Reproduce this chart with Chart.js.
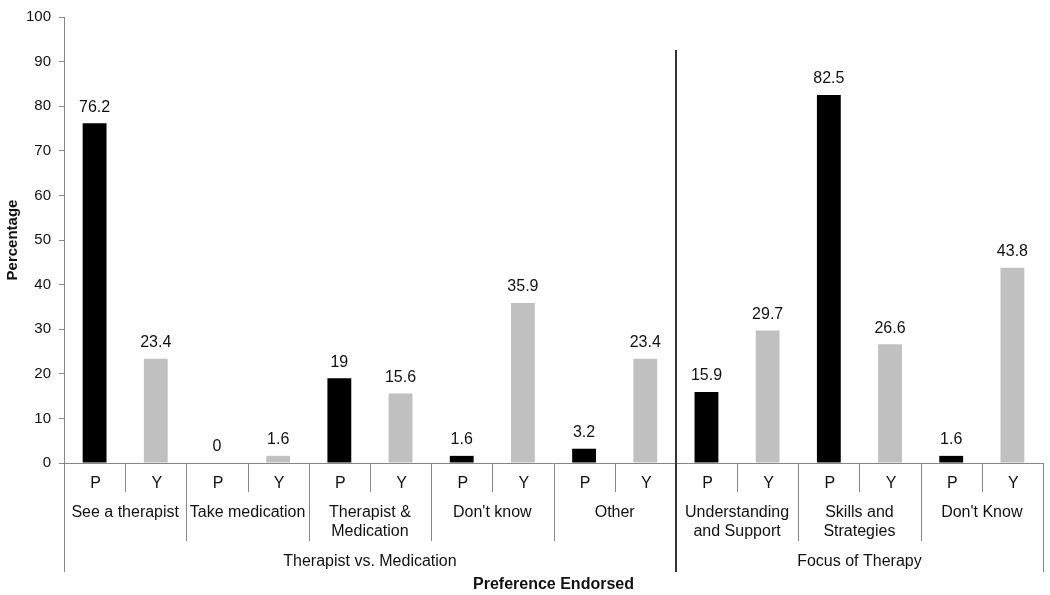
<!DOCTYPE html>
<html>
<head>
<meta charset="utf-8">
<script src="https://cdn.jsdelivr.net/npm/chart.js@4"></script>
<style>
  body { margin: 0; background: #fff; }
  #wrap { width: 1050px; height: 595px; }
</style>
</head>
<body>
<div id="wrap"><canvas id="chart" width="1050" height="595"></canvas></div>
<script>
// chart data
const groups = ["Therapist vs. Medication", "Focus of Therapy"];
const groupSizes = [5, 3];
const subcategories = [
  ["See a therapist"],
  ["Take medication"],
  ["Therapist &", "Medication"],
  ["Don't know"],
  ["Other"],
  ["Understanding", "and Support"],
  ["Skills and", "Strategies"],
  ["Don't Know"],
];
const seriesNames = ["P", "Y"];
const valuesP = [76.2, 0, 19, 1.6, 3.2, 15.9, 82.5, 1.6];
const valuesY = [23.4, 1.6, 15.6, 35.9, 23.4, 29.7, 26.6, 43.8];
const yTicks = [0, 10, 20, 30, 40, 50, 60, 70, 80, 90, 100];

const fontFamily = "'Liberation Sans', Arial, sans-serif";
const axisGray = "#868686";

// interleave P / Y into one row of 16 bars
const labels = [];
const values = [];
const colors = [];
subcategories.forEach((sub, i) => {
  labels.push(seriesNames[0], seriesNames[1]);
  values.push(valuesP[i], valuesY[i]);
  colors.push("#000000", "#c0c0c0");
});

// draws values above bars and the multi-level category axis
const axisPlugin = {
  id: "multiAxis",
  afterDatasetsDraw(chart) {
    const ctx = chart.ctx;
    const meta = chart.getDatasetMeta(0);
    ctx.save();
    ctx.font = "16px " + fontFamily;
    ctx.fillStyle = "#111";
    ctx.textAlign = "center";
    ctx.textBaseline = "middle";
    meta.data.forEach((bar, i) => {
      ctx.fillText(String(values[i]), bar.x, bar.y - 16);
    });
    ctx.restore();
  },
  afterDraw(chart) {
    const ctx = chart.ctx;
    const x = chart.scales.x;
    const area = chart.chartArea;
    const base = area.bottom;
    const slot = (area.right - area.left) / labels.length;
    const edge = (i) => area.left + i * slot;

    ctx.save();
    ctx.strokeStyle = axisGray;
    ctx.lineWidth = 1;

    // horizontal axis line
    ctx.beginPath();
    ctx.moveTo(area.left, base + 0.5);
    ctx.lineTo(area.right, base + 0.5);
    ctx.stroke();

    // separators
    const groupEdges = [0];
    groupSizes.forEach((n) => groupEdges.push(groupEdges[groupEdges.length - 1] + n * 2));
    for (let i = 0; i <= labels.length; i++) {
      let len = 29;
      if (i % 2 === 0) len = 78;
      if (groupEdges.includes(i)) len = 109;
      if (i === groupEdges[1]) continue;
      const px = Math.round(edge(i)) + 0.5;
      ctx.beginPath();
      ctx.moveTo(px, base);
      ctx.lineTo(px, base + len);
      ctx.stroke();
    }

    // dark line between the two groups
    const mid = Math.round(edge(groupEdges[1]));
    ctx.strokeStyle = "#333";
    ctx.lineWidth = 2;
    ctx.beginPath();
    ctx.moveTo(mid, 50);
    ctx.lineTo(mid, base + 109);
    ctx.stroke();

    // P / Y labels
    ctx.fillStyle = "#111";
    ctx.textAlign = "center";
    ctx.textBaseline = "middle";
    ctx.font = "16px " + fontFamily;
    labels.forEach((lab, i) => {
      ctx.fillText(lab, x.getPixelForValue(i) + 1, base + 21);
    });

    // subcategory labels
    subcategories.forEach((lines, i) => {
      const cx = edge(i * 2 + 1);
      lines.forEach((line, j) => {
        ctx.fillText(line, cx, base + 50 + j * 19);
      });
    });

    // group labels
    groups.forEach((g, i) => {
      const cx = (edge(groupEdges[i]) + edge(groupEdges[i + 1])) / 2;
      ctx.fillText(g, cx, base + 99);
    });

    // axis titles
    ctx.font = "bold 16px " + fontFamily;
    ctx.fillText("Preference Endorsed", (area.left + area.right) / 2, base + 122);

    ctx.translate(13, (area.top + area.bottom) / 2);
    ctx.rotate(-Math.PI / 2);
    ctx.font = "bold 15px " + fontFamily;
    ctx.fillText("Percentage", 0, 0);
    ctx.restore();
  },
};

const ctx = document.querySelector("#chart").getContext("2d");
const chart = new Chart(ctx, {
  type: "bar",
  data: {
    labels: labels,
    datasets: [
      {
        data: values,
        backgroundColor: colors,
        borderWidth: 0,
        categoryPercentage: 1,
        barPercentage: 0.39,
      },
    ],
  },
  options: {
    responsive: false,
    animation: false,
    layout: { padding: { top: 12, right: 7, left: 0, bottom: 132 } },
    plugins: {
      legend: { display: false },
      tooltip: { enabled: false },
    },
    scales: {
      x: { display: false },
      y: {
        min: 0,
        max: 100,
        afterFit: (scale) => {
          scale.width = 64;
        },
        afterBuildTicks: (scale) => {
          scale.ticks = yTicks.map((v) => ({ value: v }));
        },
        border: { color: axisGray, width: 1 },
        grid: {
          drawOnChartArea: false,
          drawTicks: true,
          tickLength: 5,
          color: axisGray,
        },
        ticks: {
          padding: 8,
          color: "#111",
          font: { family: fontFamily, size: 15 },
        },
      },
    },
  },
  plugins: [axisPlugin],
});
</script>
</body>
</html>
